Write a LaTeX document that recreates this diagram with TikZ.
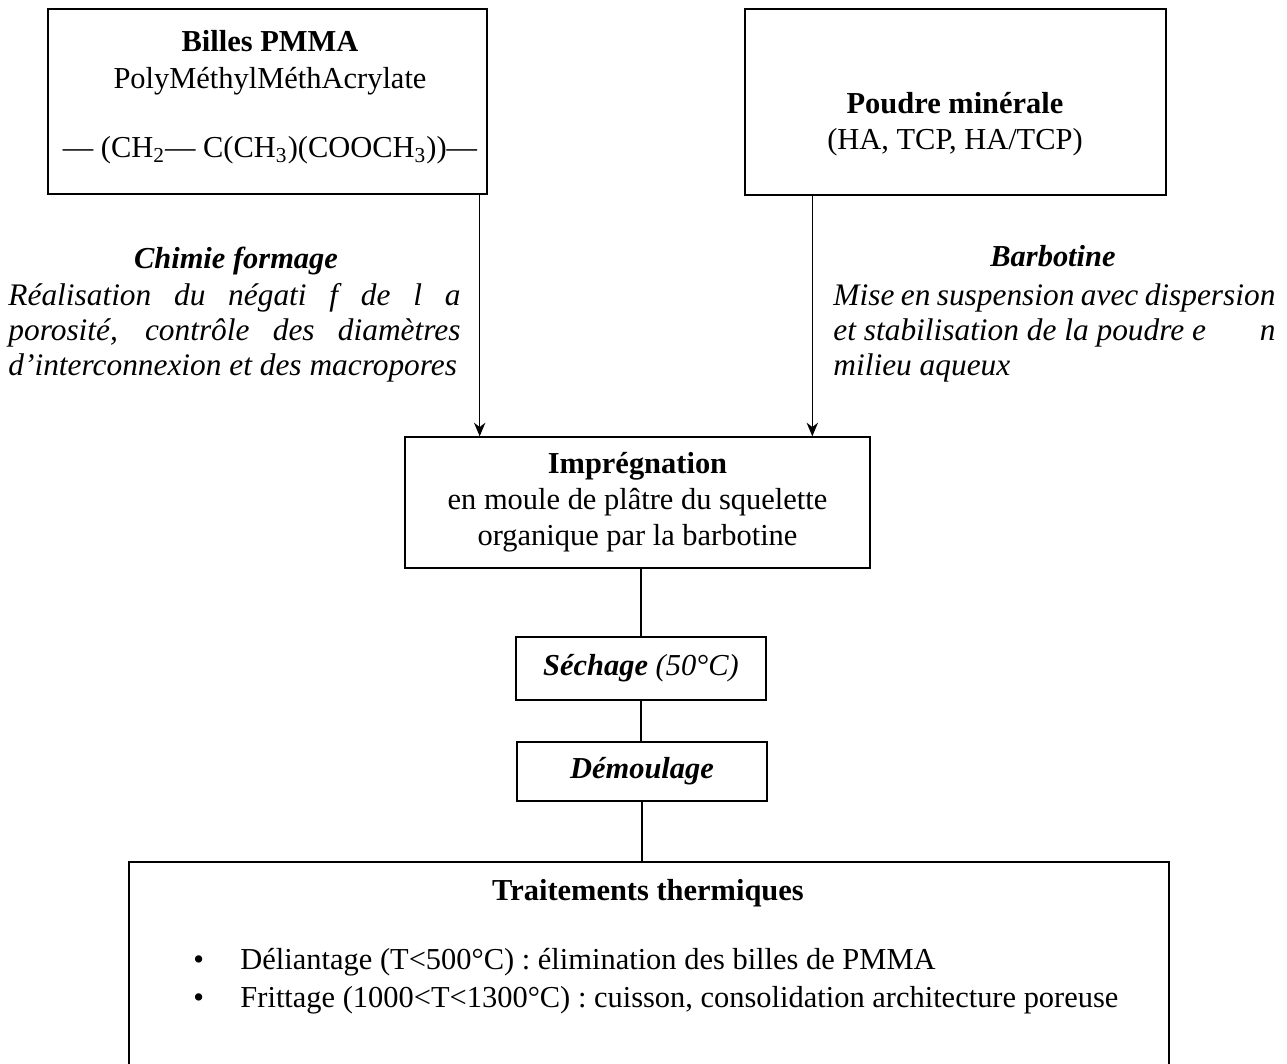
\documentclass[tikz,border=0pt]{standalone}
\usepackage{fontspec}
\setmainfont{Liberation Serif}
\usetikzlibrary{arrows.meta}
\usetikzlibrary{positioning}
\newcommand{\px}{0.44pt}

\begin{document}
\begin{tikzpicture}[x=\px,y=-\px]
\useasboundingbox (0,0) rectangle (1287,1064);
\begin{scope}[every node/.style={rectangle,draw,line width=0.6pt,align=center,
                                 font=\fontsize{13.4}{15.8}\selectfont}]
    \node[minimum width=439*\px, minimum height=185*\px] (pmma) at (267.5,101.5) {};
    \node[minimum width=421*\px, minimum height=186*\px] (poudre) at (955.5,102) {};
    \node[minimum width=465*\px, minimum height=131*\px] (impreg) at (637.5,502.5)
        {\textbf{Imprégnation}\\en moule de plâtre du squelette\\organique par la barbotine};
    \node[minimum width=250*\px, minimum height=63*\px] (sechage) at (641,668.5)
        {\textbf{\textit{Séchage}} \textit{(50°C)}};
    \node[minimum width=250*\px, minimum height=59*\px] (demoulage) at (642,771.5)
        {\textbf{\textit{Démoulage}}};
    \node[minimum width=1040*\px, minimum height=223*\px] (traitements) at (649,973.5) {};
\end{scope}
\begin{scope}[every node/.style={inner sep=0pt,font=\fontsize{13.4}{15.8}\selectfont}]
    \node[align=center, anchor=north, font=\fontsize{13.4}{16.3}\selectfont] (pmmatxt) at (270,30)
        {\textbf{Billes PMMA}\\PolyMéthylMéthAcrylate\\[14pt]%
         — (CH\textsubscript{2}— C(CH\textsubscript{3})(COOCH\textsubscript{3}))—};
    \node[align=center, anchor=north] (poudretxt) at (955,92) {\textbf{Poudre minérale}\\(HA, TCP, HA/TCP)};
    \node[anchor=base] (chimie) at (236,269) {\textbf{\textit{Chimie formage}}};
    \node[anchor=north west, text width=452*\px, align=justify, font=\fontsize{13.8}{15.4}\selectfont\itshape]
        (chimietxt) at (8,283)
        {Réalisation du négati f de l a\linebreak porosité, contrôle des diamètres\linebreak
         d'interconnexion et des macropores};
    \node[anchor=base] (barbotine) at (1053,267) {\textbf{\textit{Barbotine}}};
    \node[anchor=north west, text width=442*\px, align=justify, font=\fontsize{13.8}{15.4}\selectfont\itshape]
        (barbotinetxt) at (833,283)
        {Mise en suspension avec dispersion\linebreak et stabilisation de la poudre e\hfill n\linebreak
         milieu aqueux};
    \node (titre) at (648,893) {\textbf{Traitements thermiques}};
    \node[anchor=west] (liste) at (193,981)
        {\begin{tabular}{@{}l@{\hspace{16pt}}l@{}}
         •&Déliantage (T<500°C) : élimination des billes de PMMA\\[1pt]
         •&Frittage (1000<T<1300°C) : cuisson, consolidation architecture poreuse
         \end{tabular}};
\end{scope}
\begin{scope}[>={Stealth[black,length=6pt,width=5pt]},
              arrow_edge/.style={draw=black,line width=0.6pt},
              line_edge/.style={draw=black,line width=0.6pt}]
    \coordinate (p1) at ([xshift=-8*\px]pmma.south east);
    \coordinate (p2) at ([xshift=68*\px]poudre.south west);
    \path [->] (p1) edge [arrow_edge] (p1 |- impreg.north);
    \path [->] (p2) edge [arrow_edge] (p2 |- impreg.north);
    \path (sechage.north |- impreg.south) edge [line_edge] (sechage.north);
    \path (sechage.south) edge [line_edge] (sechage.south |- demoulage.north);
    \path (demoulage.south) edge [line_edge] (demoulage.south |- traitements.north);
\end{scope}
\end{tikzpicture}
\end{document}
